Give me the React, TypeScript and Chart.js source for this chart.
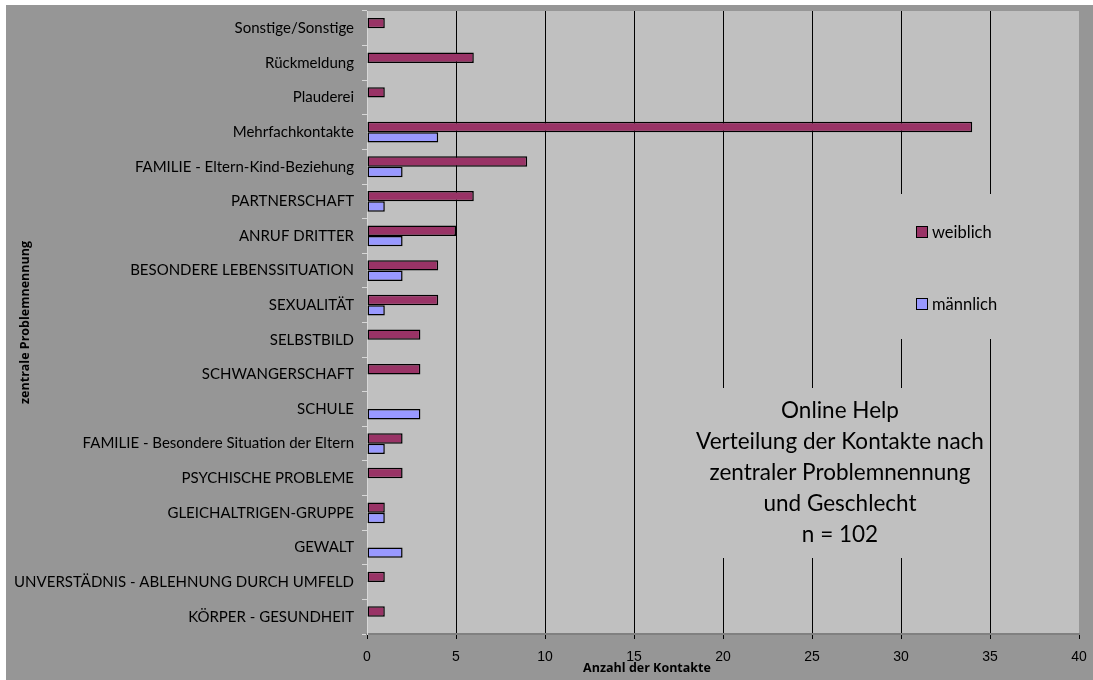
import React, { useEffect, useRef } from "react";
import { Chart, registerables } from "chart.js";

Chart.register(...registerables);

const categories = [
  "Sonstige/Sonstige",
  "Rückmeldung",
  "Plauderei",
  "Mehrfachkontakte",
  "FAMILIE - Eltern-Kind-Beziehung",
  "PARTNERSCHAFT",
  "ANRUF DRITTER",
  "BESONDERE LEBENSSITUATION",
  "SEXUALITÄT",
  "SELBSTBILD",
  "SCHWANGERSCHAFT",
  "SCHULE",
  "FAMILIE - Besondere Situation der Eltern",
  "PSYCHISCHE PROBLEME",
  "GLEICHALTRIGEN-GRUPPE",
  "GEWALT",
  "UNVERSTÄDNIS - ABLEHNUNG DURCH UMFELD",
  "KÖRPER - GESUNDHEIT",
];

const weiblich = [1, 6, 1, 34, 9, 6, 5, 4, 4, 3, 3, 0, 2, 2, 1, 0, 1, 1];
const maennlich = [0, 0, 0, 4, 2, 1, 2, 2, 1, 0, 0, 3, 1, 0, 1, 2, 0, 0];

const seriesNames = ["weiblich", "männlich"];
const seriesColors = ["#993366", "#9999FF"];

const xMin = 0;
const xMax = 40;
const xStep = 5;

const titleLines = [
  "Online Help",
  "Verteilung der Kontakte nach",
  "zentraler Problemnennung",
  "und Geschlecht",
  "n = 102",
];
const xAxisTitle = "Anzahl der Kontakte";
const yAxisTitle = "zentrale Problemnennung";

const LABEL_FONT = "Lato, 'Open Sans', sans-serif";
const NUM_FONT = "'Liberation Sans Narrow', 'Arial Narrow', 'Liberation Sans', sans-serif";
const BOLD_FONT = "'Open Sans', Lato, sans-serif";

const PLOT_BG = "#C0C0C0";
const OUTER_BG = "#969696";

const decorPlugin = {
  id: "decor",
  beforeDraw(chart: any) {
    const { ctx, chartArea, width, height } = chart;
    ctx.save();
    ctx.fillStyle = "#FFFFFF";
    ctx.fillRect(0, 0, width, height);
    ctx.fillStyle = OUTER_BG;
    ctx.fillRect(6, 5, width - 6, height - 5);
    ctx.fillStyle = PLOT_BG;
    ctx.fillRect(chartArea.left, chartArea.top, chartArea.right - chartArea.left, chartArea.bottom - chartArea.top);
    ctx.restore();
  },
  beforeDatasetsDraw(chart: any) {
    const { ctx } = chart;
    ctx.save();
    ctx.fillStyle = PLOT_BG;
    // legend box area (hides gridlines)
    ctx.fillRect(895, 194, 115, 145);
    // title box area
    ctx.fillRect(700, 388, 280, 170);
    ctx.restore();
  },
  afterDraw(chart: any) {
    const { ctx, chartArea } = chart;
    ctx.save();
    // legend
    const legendY = [232, 304];
    seriesNames.forEach((name, i) => {
      ctx.fillStyle = seriesColors[i];
      ctx.fillRect(916.5, legendY[i] - 5.5, 11, 11);
      ctx.strokeStyle = "#000";
      ctx.lineWidth = 1;
      ctx.strokeRect(916.5, legendY[i] - 5.5, 11, 11);
      ctx.fillStyle = "#000";
      ctx.font = `16.5px ${LABEL_FONT}`;
      ctx.textAlign = "left";
      ctx.textBaseline = "middle";
      ctx.fillText(name, 932, legendY[i] + 1);
    });
    // title
    ctx.fillStyle = "#000";
    ctx.font = `22.5px ${LABEL_FONT}`;
    ctx.textAlign = "center";
    ctx.textBaseline = "middle";
    titleLines.forEach((line, i) => {
      ctx.fillText(line, 840, 411 + i * 31);
    });
    // x axis title
    ctx.font = `bold 12.5px ${BOLD_FONT}`;
    ctx.textAlign = "center";
    ctx.textBaseline = "middle";
    ctx.fillText(xAxisTitle, 647, 668);
    // y axis title
    ctx.translate(25, (chartArea.top + chartArea.bottom) / 2);
    ctx.rotate(-Math.PI / 2);
    ctx.font = `bold 12.5px ${BOLD_FONT}`;
    ctx.fillText(yAxisTitle, 0, 0);
    ctx.restore();
  },
};

function zeroPadding(scale: any) {
  scale.paddingTop = 0;
  scale.paddingBottom = 0;
  scale.paddingLeft = 0;
  scale.paddingRight = 0;
}

export default function App() {
  const canvasRef = useRef<HTMLCanvasElement | null>(null);

  useEffect(() => {
    if (!canvasRef.current) return;
    const chart = new Chart(canvasRef.current, {
      type: "bar",
      data: {
        labels: categories,
        datasets: [
          {
            label: seriesNames[0],
            data: weiblich.map((v) => (v === 0 ? null : v)),
            backgroundColor: seriesColors[0],
            borderColor: "#000000",
            borderWidth: 1.5,
            borderSkipped: false,
            categoryPercentage: 0.6,
            barPercentage: 1,
          },
          {
            label: seriesNames[1],
            data: maennlich.map((v) => (v === 0 ? null : v)),
            backgroundColor: seriesColors[1],
            borderColor: "#000000",
            borderWidth: 1.5,
            borderSkipped: false,
            categoryPercentage: 0.6,
            barPercentage: 1,
          },
        ],
      },
      options: {
        indexAxis: "y",
        responsive: false,
        animation: false,
        devicePixelRatio: 1,
        layout: { padding: { left: 0, top: 11, right: 14, bottom: 0 } },
        plugins: {
          legend: { display: false },
          tooltip: { enabled: false },
          title: { display: false },
        },
        scales: {
          x: {
            type: "linear",
            min: xMin,
            max: xMax,
            ticks: {
              stepSize: xStep,
              color: "#000",
              padding: 10,
              font: { family: NUM_FONT, size: 14 },
            },
            grid: {
              color: (c: any) =>
                c.tick && (c.tick.value === xMin || c.tick.value === xMax) ? "rgba(0,0,0,0)" : "#000000",
              tickColor: "#000000",
              tickLength: 5,
              lineWidth: 1,
            },
            border: { color: "#808080", width: 2 },
            afterFit(scale: any) {
              scale.height = 46;
              zeroPadding(scale);
            },
          },
          y: {
            type: "category",
            ticks: {
              color: "#000",
              padding: 8,
              font: { family: LABEL_FONT, size: 15 },
              autoSkip: false,
            },
            grid: {
              drawOnChartArea: false,
              color: "#D8D8D8",
              tickLength: 5,
              offset: true,
            },
            border: { color: "#D8D8D8", width: 1 },
            afterFit(scale: any) {
              scale.width = 367;
              zeroPadding(scale);
            },
          },
        },
      },
      plugins: [decorPlugin],
    });
    return () => chart.destroy();
  }, []);

  return (
    <div style={{ position: "absolute", left: 0, top: 0, width: 1093, height: 680 }}>
      <canvas ref={canvasRef} width={1093} height={680} style={{ display: "block" }} />
    </div>
  );
}
